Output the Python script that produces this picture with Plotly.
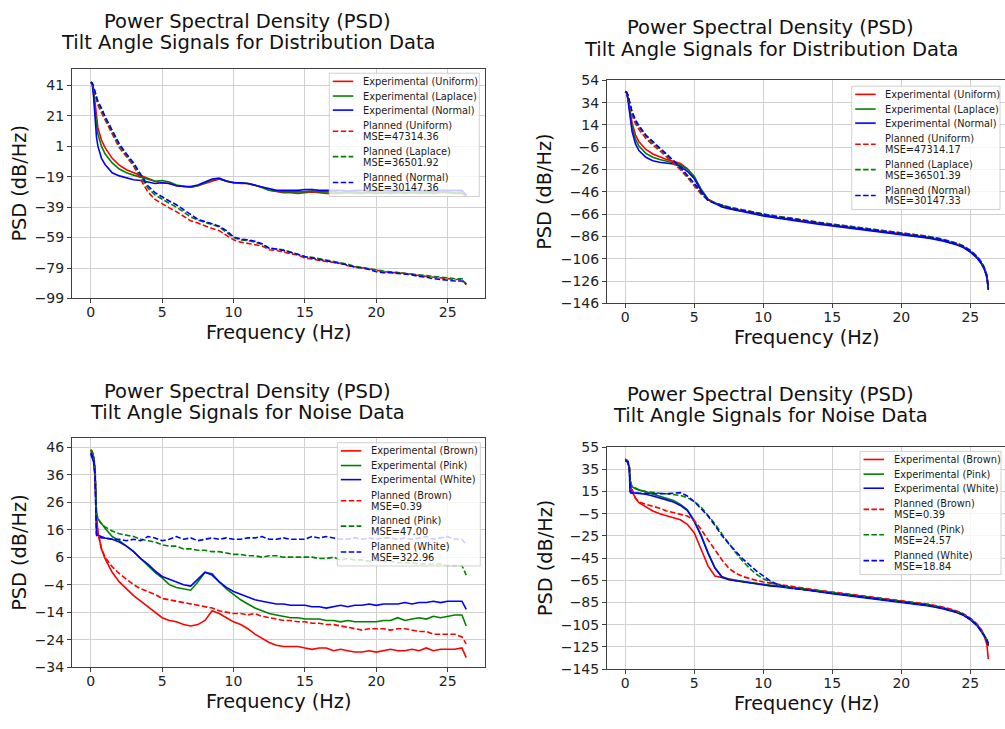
import plotly.graph_objects as go

W, H = 1005, 729

# ---------------- DATA ----------------
# Top-left: Distribution data (noisy PSD)
F_TL = [0, 0.1, 0.2, 0.3, 0.4, 0.5, 0.75, 1.0, 1.5, 2.0,
        2.5, 3, 3.5, 4, 4.5, 5, 5.5, 6, 6.5, 7,
        7.5, 8, 8.5, 9, 9.5, 10, 10.5, 11, 11.5, 12,
        12.5, 13, 13.5, 14, 14.5, 15, 15.5, 16, 16.5, 17,
        17.5, 18, 18.5, 19, 19.5, 20, 20.5, 21, 21.5, 22,
        22.5, 23, 23.5, 24, 24.5, 25, 25.5, 26, 26.3]
TL_EXP_UNIFORM = [43, 42.5, 38, 28, 19, 13, 5, 0, -7, -11.5,
                  -14.5, -16.5, -18.5, -20.5, -22, -23, -23.5, -25, -25.5, -26,
                  -25, -23.5, -21.5, -20.5, -22, -23, -23.5, -23.5, -24.5, -26,
                  -28, -29, -29.5, -29.5, -30, -29.5, -29, -29.5, -30, -30,
                  -30, -29.5, -30, -30, -29.5, -30, -29.5, -30, -29.5, -30,
                  -29.5, -30, -29.5, -30, -29.5, -29.5, -30, -30, -32]
TL_EXP_LAPLACE = [43, 42.5, 36, 25, 15, 9, 1, -4, -10, -14,
                  -16.5, -18, -19.5, -21, -22, -21.5, -22.5, -24.5, -25.5, -26,
                  -25, -23, -21, -20.5, -22, -23, -23, -23.5, -24.5, -26.5,
                  -28, -28.5, -29, -29, -29, -29, -28.5, -29, -29, -29,
                  -29.5, -29, -29, -29.5, -29, -29, -29.5, -29, -29, -29.5,
                  -29, -29, -29.5, -29, -29, -29, -29.5, -29, -31.5]
TL_EXP_NORMAL = [43, 42, 33, 18, 7, 1, -7, -11, -16.5, -18.5,
                 -20, -21, -21.5, -22.5, -23.5, -23, -23.5, -25, -25.5, -25.5,
                 -24.5, -22.5, -20.5, -20, -22, -23, -23, -23.5, -24.5, -26,
                 -27, -28, -28, -28, -28, -27.5, -27.5, -28, -28, -28,
                 -28, -28.5, -28, -28, -28.5, -28, -28, -28, -28.5, -28,
                 -28, -28, -28.5, -28, -28, -28, -28, -28, -31]
TL_PLAN_UNIFORM = [43, 42, 39, 35, 31, 28, 23, 18, 9, 0,
                   -6, -12, -21, -29, -34, -37, -39.5, -42, -45, -48,
                   -49.5, -51.5, -53, -54.5, -57.5, -60.5, -62, -63, -63.5, -64.5,
                   -67, -67.5, -68.5, -69.5, -70.5, -72.5, -73, -74, -74.5, -75,
                   -76, -77.5, -78, -79, -79.5, -80.5, -81, -82, -82, -82.5,
                   -83, -84, -84.5, -85, -85.5, -86, -86.5, -86.5, -90]
TL_PLAN_LAPLACE = [43, 42.5, 39.5, 36, 32.5, 29.5, 25, 19.5, 10.5, 1.5,
                   -5, -11, -19, -26.5, -31, -34, -36.5, -39, -42, -45.5,
                   -47.5, -49, -50.5, -52, -55.5, -59, -60.5, -61, -62, -63.5,
                   -66, -66.5, -67, -68.5, -70, -71.5, -72, -73, -74, -74.5,
                   -75.5, -76.5, -78, -78.5, -79.5, -80.5, -81, -81.5, -82, -82.5,
                   -83, -83.5, -84, -84.5, -85, -85.5, -86, -86, -89.5]
TL_PLAN_NORMAL = [43, 42.5, 40, 36.5, 33, 30.5, 26, 20.5, 11.5, 2.5,
                  -4, -10, -17.5, -25, -29.5, -32.5, -35, -37.5, -40.5, -44,
                  -47, -48.5, -50, -51.5, -54.5, -58.5, -60, -60.5, -61.5, -63,
                  -66, -66.5, -67.5, -68.5, -70, -71.5, -72.5, -73.5, -74.5, -75,
                  -76, -77, -78.5, -79, -80, -81.5, -82, -82, -82.5, -83,
                  -83.5, -84.5, -85, -86, -86.5, -87, -87.5, -87.5, -89.5]

# Top-right: Distribution data (smooth PSD)
F_TR = [0, 0.1, 0.2, 0.3, 0.4, 0.5, 0.75, 1, 1.5, 2,
        2.5, 3, 3.5, 4, 4.5, 5, 5.5, 6, 6.5, 7,
        7.5, 8, 9, 10, 11, 12, 13, 14, 15, 16,
        17, 18, 19, 20, 21, 22, 23, 24, 24.5, 25,
        25.5, 25.8, 26, 26.2, 26.3]
TR_EXP_UNIFORM = [44, 43, 38.5, 31, 23, 16, 5, -1, -8, -12,
                  -14.5, -17, -18.5, -20.5, -25, -33, -44, -52.5, -56, -58.5,
                  -60.5, -62, -64.5, -67, -69, -70.5, -72.5, -74.5, -76, -77.5,
                  -79, -80.5, -82, -83.5, -85, -87, -89.5, -93, -95.5, -99.5,
                  -105, -110, -114.5, -122, -133]
TR_EXP_LAPLACE = [44, 43, 38, 28.5, 19.5, 12, 1, -5, -11.5, -15,
                  -17, -18.5, -19.5, -21.5, -25.5, -32, -43.5, -52.5, -56, -58.5,
                  -60.5, -62, -64.5, -67, -69, -70.5, -72.5, -74.5, -76, -77.5,
                  -79, -80.5, -82, -83.5, -85, -87, -89.5, -93, -95.5, -99.5,
                  -105, -110, -114.5, -122, -133.5]
TR_EXP_NORMAL = [44, 43, 37, 26, 16, 8, -3, -9, -15, -18,
                 -19.5, -20.5, -21, -23, -27.5, -34, -45, -53, -56.5, -59.5,
                 -61, -62.5, -65, -67.5, -69.5, -71, -73, -75, -76.5, -78,
                 -79.5, -81, -82.5, -84, -85.5, -87.5, -90, -93.5, -96, -100,
                 -105.5, -110.5, -115, -123, -134]
TR_PLAN_UNIFORM = [44, 43.5, 40, 34, 28, 23, 15, 10, 2, -4,
                   -9, -14.5, -20, -26, -33, -40, -48, -53.5, -56, -58,
                   -59.5, -61, -63.5, -66, -68, -69.5, -71.5, -73.5, -75, -76.5,
                   -78, -79.5, -81, -82.5, -84, -86, -88.5, -92, -94.5, -98.5,
                   -104, -109, -113.5, -121, -131]
TR_PLAN_LAPLACE = [44, 43.5, 40.5, 35, 29.5, 25, 17, 12, 4, -2.5,
                   -7.5, -13, -19, -25, -32, -39, -47.5, -53.5, -56, -58,
                   -59.5, -61, -63.5, -66, -68, -69.5, -71.5, -73.5, -75, -76.5,
                   -78, -79.5, -81, -82.5, -84, -86, -88.5, -92, -94.5, -98.5,
                   -104, -109, -113.5, -121, -131.5]
TR_PLAN_NORMAL = [44, 43.5, 41, 36, 30.5, 26, 18.5, 13.5, 5, -1,
                  -6.5, -12, -18, -24, -31, -38.5, -47, -53.5, -56.5, -58.5,
                  -60, -61.5, -64, -66.5, -68.5, -70, -72, -74, -75.5, -77,
                  -78.5, -80, -81.5, -83, -84.5, -86.5, -89, -92.5, -95, -99,
                  -104.5, -109.5, -114, -121.5, -132]

# Bottom-left: Noise data (noisy PSD)
F_BL = [0, 0.1, 0.2, 0.3, 0.35, 0.4, 0.5, 0.75, 1.0, 1.5,
        2, 2.5, 3, 3.5, 4, 4.5, 5, 5.5, 6, 6.5,
        7, 7.5, 8, 8.5, 9, 9.5, 10, 10.5, 11, 11.5,
        12, 12.5, 13, 13.5, 14, 14.5, 15, 15.5, 16, 16.5,
        17, 17.5, 18, 18.5, 19, 19.5, 20, 20.5, 21, 21.5,
        22, 22.5, 23, 23.5, 24, 24.5, 25, 25.5, 26, 26.3]
BL_EXP_BROWN = [45, 44, 42, 36, 28, 21, 15, 9, 5.5, 0.5,
                -3, -5.5, -8, -10, -12, -14, -16, -17, -17.5, -18.5,
                -19, -18.5, -17, -13.5, -14.5, -16, -17.5, -18.5, -20, -22,
                -23.5, -25, -26, -26.5, -26.5, -26.5, -27, -27.5, -27, -27,
                -28, -27.5, -28, -28.5, -28.5, -28, -28.5, -28, -27.5, -28,
                -28, -27.5, -28, -27, -28, -27.5, -27.5, -27.5, -27, -30.5]
BL_EXP_PINK = [45, 44, 42.5, 38, 28, 22, 20, 18, 16.5, 13.5,
               12, 10, 8, 5.5, 3, 0.5, -1.5, -4, -5, -5.5,
               -6, -3, 0.5, 0, -3, -5.5, -7.5, -9.5, -11, -12.5,
               -13.5, -14.5, -15, -15.5, -16, -16, -16.5, -16.5, -16.5, -17,
               -17, -17.5, -17, -17.5, -17.5, -17.5, -17.5, -17, -17, -16,
               -17, -16.5, -16, -16.5, -15.5, -16, -15.5, -15, -15, -19]
BL_EXP_WHITE = [43.5, 42, 40.5, 35, 15, 14.5, 14, 13.5, 13, 12.5,
                11.5, 10, 8, 5.5, 3.5, 1, -1, -2, -3, -4,
                -4.5, -2, 0.5, -0.5, -3, -5, -6.5, -7.5, -8.5, -9.5,
                -10, -10.5, -11, -11, -11.5, -11.5, -11.5, -12, -12, -12.5,
                -12, -11.5, -12, -11.5, -11.5, -11, -11.5, -11, -11, -11,
                -10.5, -11, -10.5, -10.5, -10, -10.5, -10, -10, -10, -13]
BL_PLAN_BROWN = [45, 44, 42, 37, 28, 21, 15, 9, 6, 2.5,
                 0, -2, -4, -5.5, -6.5, -7.5, -9, -9.5, -10, -10.5,
                 -11, -11.5, -12, -12.5, -13.5, -14, -14.5, -14.5, -15, -14.5,
                 -15.5, -16, -16.5, -17, -17, -17.5, -17.5, -18, -18, -18.5,
                 -18.5, -19, -19.5, -20, -20.5, -20, -20, -20, -20.5, -20,
                 -20, -20.5, -21, -21, -22, -22, -22, -22, -23, -25.5]
BL_PLAN_PINK = [45, 44.5, 43, 39, 30, 22, 20, 18, 17, 15.5,
                14.5, 14, 13.5, 12.5, 12, 11.5, 10.5, 10, 10, 9,
                9, 8.5, 8.5, 8, 8, 7.5, 7, 7, 6.5, 6.5,
                6, 6.5, 6.5, 6, 6, 6, 6, 6, 5.5, 5.5,
                6, 5, 5.5, 5, 5, 4.5, 5, 4.5, 4.5, 4,
                4, 4, 3.5, 3.5, 3.5, 3.5, 3, 3, 3, -0.5]
BL_PLAN_WHITE = [44, 43, 41.5, 36, 16, 14, 13.5, 13, 13, 12.5,
                 12.5, 12, 12.5, 12, 13.5, 13, 12, 12.5, 13.5, 12.5,
                 13, 12, 12.5, 13, 12.5, 13, 12.5, 12.5, 13, 13,
                 13.5, 12.5, 12.5, 13, 12.5, 12.5, 12.5, 13.5, 13, 13.5,
                 13, 12.5, 12.5, 13, 12.5, 13, 12.5, 13, 13, 12.5,
                 13, 12.5, 13, 13.5, 12.5, 13, 13.5, 12.5, 12.5, 10.5]

# Bottom-right: Noise data (smooth PSD)
F_BR = [0, 0.1, 0.2, 0.3, 0.35, 0.4, 0.5, 0.75, 1, 1.5,
        2, 2.5, 3, 3.5, 4, 4.5, 5, 5.5, 6, 6.5,
        7, 7.5, 8, 8.5, 9, 9.5, 10, 10.5, 11, 11.5,
        12, 13, 14, 15, 16, 17, 18, 19, 20, 21,
        22, 23, 24, 24.5, 25, 25.5, 25.8, 26, 26.2, 26.3]
BR_EXP_BROWN = [44, 43, 41, 35, 26, 20, 15, 9, 5, 1,
                -2.5, -5, -7, -8.5, -10.5, -14.5, -22, -37, -52, -61,
                -62.5, -64, -65, -66, -67, -67.5, -68.5, -69.5, -70, -70.5,
                -71.5, -73, -75, -76.5, -78, -79.5, -81, -82.5, -84, -85.5,
                -87.5, -90, -93.5, -96, -100, -105.5, -110.5, -115, -123, -136]
BR_EXP_PINK = [44, 43.5, 42, 37, 24, 21, 19.5, 17.5, 16.5, 14.5,
               13, 11, 9, 7, 3.5, -1.5, -11, -24, -40, -53.5,
               -61.5, -64, -65, -66, -67, -68, -69, -69.5, -70, -71,
               -71.5, -73, -75, -76.5, -78, -79.5, -81, -82.5, -84, -85.5,
               -87.5, -90, -93.5, -96, -100, -105.5, -110.5, -114.5, -119, -123]
BR_EXP_WHITE = [43, 42.5, 41, 36, 15, 14, 14, 13.8, 13.5, 12.5,
                11, 9.5, 7.5, 5.5, 2.5, -2, -12, -25, -40.5, -54,
                -62, -64.5, -65.5, -66.5, -67.5, -68.5, -69.5, -70, -70.5, -71.5,
                -72, -73.5, -75.5, -77, -78.5, -80, -81.5, -83, -84.5, -86,
                -88, -90.5, -94, -96.5, -100.5, -106, -111, -115, -119, -124]
BR_PLAN_BROWN = [44, 43.5, 42, 37, 28, 22.5, 17, 9, 5.5, 3.5,
                 2, 0, -2.5, -4, -5, -7, -11, -19, -28.5, -38,
                 -46.5, -54, -58.5, -61.5, -63.5, -65, -66.5, -67.5, -68.5, -69.5,
                 -70.5, -72, -74, -75.5, -77, -78.5, -80, -81.5, -83, -84.5,
                 -86.5, -89, -92.5, -95, -99, -104.5, -109.5, -114, -119, -122]
BR_PLAN_PINK = [44, 43.5, 42.5, 38, 26, 22, 20, 18, 16.5, 15,
                14, 13.5, 13, 12.5, 11.5, 9.5, 6, 1, -6, -14,
                -23, -32, -40, -47.5, -54, -59.5, -63.5, -66.5, -69, -70.5,
                -71.5, -72.5, -74.5, -76, -77.5, -79, -80.5, -82, -83.5, -85,
                -87, -89.5, -93, -95.5, -99.5, -105, -110, -114, -118.5, -121]
BR_PLAN_WHITE = [43, 42.5, 41.5, 37, 15, 14, 13.8, 13.5, 13.5, 13.3,
                 13, 13, 13, 13.5, 14, 11, 6, -0.5, -7, -15.5,
                 -24.5, -32, -38.5, -45.5, -51, -56.5, -61, -65.5, -68.5, -70.5,
                 -72, -73.5, -75, -76.5, -78, -79.5, -81, -82.5, -84, -85.5,
                 -87.5, -90, -93.5, -96, -100, -105.5, -110.5, -114.5, -119, -122]

DIST_NAMES = ["Uniform", "Laplace", "Normal"]
NOISE_NAMES = ["Brown", "Pink", "White"]
MSE_TL = ["47314.36", "36501.92", "30147.36"]
MSE_TR = ["47314.17", "36501.39", "30147.33"]
MSE_BL = ["0.39", "47.00", "322.96"]
MSE_BR = ["0.39", "24.57", "18.84"]

TITLE_L1 = "Power Spectral Density (PSD)"
TITLE_DIST = "Tilt Angle Signals for Distribution Data"
TITLE_NOISE = "Tilt Angle Signals for Noise Data"
X_LABEL = "Frequency (Hz)"
Y_LABEL = "PSD (dB/Hz)"

Y_TICKS_TL = [-99, -79, -59, -39, -19, 1, 21, 41]
Y_TICKS_TR = [-146, -126, -106, -86, -66, -46, -26, -6, 14, 34, 54]
Y_TICKS_BL = [-34, -24, -14, -4, 6, 16, 26, 36, 46]
Y_TICKS_BR = [-145, -125, -105, -85, -65, -45, -25, -5, 15, 35, 55]
X_TICKS = [0, 5, 10, 15, 20, 25]

# ---------------- STYLE / LAYOUT ----------------
FONT = "DejaVu Sans"
COLORS = ["#ff0000", "#008000", "#0000ff"]
DASH = "5.5px,2.4px"


def pxx(p):
    return p / W


def pxy(p):
    return 1 - p / H


def fmt(v):
    return str(v).replace("-", "\u2212")


panels = [
    dict(ax="", freq=F_TL, exp=[TL_EXP_UNIFORM, TL_EXP_LAPLACE, TL_EXP_NORMAL],
         plan=[TL_PLAN_UNIFORM, TL_PLAN_LAPLACE, TL_PLAN_NORMAL], names=DIST_NAMES, mse=MSE_TL,
         box=(72, 62, 485, 297), xr=[-1.315, 27.615], yr=[-99, 51.9], yt=Y_TICKS_TL,
         title=(TITLE_L1, TITLE_DIST), tcx=247.5, ty=(13.5, 35.5),
         xlab=(278.5, 331.5), ylab=(20, 179.5), mirror_y=True,
         leg=(329.3, 66.7, 150)),
    dict(ax="2", freq=F_TR, exp=[TR_EXP_UNIFORM, TR_EXP_LAPLACE, TR_EXP_NORMAL],
         plan=[TR_PLAN_UNIFORM, TR_PLAN_LAPLACE, TR_PLAN_NORMAL], names=DIST_NAMES, mse=MSE_TR,
         box=(607, 74, 1005, 302), xr=[-1.315, 27.51], yr=[-146, 54], yt=Y_TICKS_TR,
         title=(TITLE_L1, TITLE_DIST), tcx=770.7, ty=(20, 42.7),
         xlab=(806, 336.5), ylab=(545, 188), mirror_y=False,
         leg=(851.7, 80, 148.3)),
    dict(ax="3", freq=F_BL, exp=[BL_EXP_BROWN, BL_EXP_PINK, BL_EXP_WHITE],
         plan=[BL_PLAN_BROWN, BL_PLAN_PINK, BL_PLAN_WHITE], names=NOISE_NAMES, mse=MSE_BL,
         box=(72, 440, 485, 674), xr=[-1.315, 27.615], yr=[-34, 49.2], yt=Y_TICKS_BL,
         title=(TITLE_L1, TITLE_NOISE), tcx=247.5, ty=(391.7, 413.3),
         xlab=(278.5, 709.5), ylab=(20, 557), mirror_y=True,
         leg=(337.3, 444.5, 143)),
    dict(ax="4", freq=F_BR, exp=[BR_EXP_BROWN, BR_EXP_PINK, BR_EXP_WHITE],
         plan=[BR_PLAN_BROWN, BR_PLAN_PINK, BR_PLAN_WHITE], names=NOISE_NAMES, mse=MSE_BR,
         box=(607, 449, 1005, 676), xr=[-1.315, 27.51], yr=[-145, 55], yt=Y_TICKS_BR,
         title=(TITLE_L1, TITLE_NOISE), tcx=770.7, ty=(395, 416.7),
         xlab=(806, 711.5), ylab=(545, 562.5), mirror_y=False,
         leg=(860, 453.3, 141)),
]

fig = go.Figure()
shapes = []
annotations = []
layout_axes = {}

LEG_ROWS = [8.3, 23.3, 37.7, 59.3, 85.3, 111.7]
LEG_H = 126

for p in panels:
    xa = "x" + p["ax"]
    ya = "y" + p["ax"]
    for i in range(3):
        fig.add_trace(go.Scatter(
            x=p["freq"], y=p["exp"][i], mode="lines", xaxis=xa, yaxis=ya,
            name=f"Experimental ({p['names'][i]})", showlegend=False,
            line=dict(color=COLORS[i], width=1.6)))
    for i in range(3):
        fig.add_trace(go.Scatter(
            x=p["freq"], y=p["plan"][i], mode="lines", xaxis=xa, yaxis=ya,
            name=f"Planned ({p['names'][i]}) MSE={p['mse'][i]}", showlegend=False,
            line=dict(color=COLORS[i], width=1.6, dash=DASH)))

    l, t, r, b = p["box"]
    axis_common = dict(showgrid=True, gridcolor="#d0d0d0", gridwidth=1.3,
                       showline=True, linecolor="#404040", linewidth=1,
                       ticks="outside", ticklen=4, tickwidth=1, tickcolor="#404040",
                       tickfont=dict(family=FONT, size=14, color="#222222"),
                       zeroline=False, fixedrange=True)
    layout_axes["xaxis" + p["ax"]] = dict(
        axis_common, domain=[pxx(l), pxx(r)], anchor=ya, range=p["xr"],
        tickmode="array", tickvals=X_TICKS, ticktext=[str(v) for v in X_TICKS],
        mirror=True, ticklabelstandoff=-3)
    layout_axes["yaxis" + p["ax"]] = dict(
        axis_common, domain=[pxy(b), pxy(t)], anchor=xa, range=p["yr"],
        tickmode="array", tickvals=p["yt"], ticktext=[fmt(v) for v in p["yt"]],
        mirror=p["mirror_y"])

    # titles
    for line, yy in zip(p["title"], p["ty"]):
        annotations.append(dict(text=line, x=pxx(p["tcx"]), y=pxy(yy), xref="paper", yref="paper",
                                xanchor="center", yanchor="middle", showarrow=False,
                                font=dict(family=FONT, size=19.5, color="#111111")))
    annotations.append(dict(text=X_LABEL, x=pxx(p["xlab"][0]), y=pxy(p["xlab"][1]), xref="paper",
                            yref="paper", xanchor="center", yanchor="middle", showarrow=False,
                            font=dict(family=FONT, size=19.3, color="#111111")))
    annotations.append(dict(text=Y_LABEL, x=pxx(p["ylab"][0]), y=pxy(p["ylab"][1]), xref="paper",
                            yref="paper", xanchor="center", yanchor="middle", showarrow=False,
                            textangle=-90, font=dict(family=FONT, size=19.3, color="#111111")))

    # legend (matplotlib-style box inside the axes)
    gl, gt, gw = p["leg"]
    shapes.append(dict(type="rect", xref="paper", yref="paper", layer="above",
                       x0=pxx(gl), x1=pxx(gl + gw), y0=pxy(gt + LEG_H), y1=pxy(gt),
                       fillcolor="rgba(255,255,255,0.8)",
                       line=dict(color="rgba(204,204,204,0.9)", width=1)))
    labels = [[f"Experimental ({n})"] for n in p["names"]] + \
             [[f"Planned ({n})", f"MSE={m}"] for n, m in zip(p["names"], p["mse"])]
    for k, (row, lab) in enumerate(zip(LEG_ROWS, labels)):
        cy = gt + row
        col = COLORS[k % 3]
        shapes.append(dict(type="line", xref="paper", yref="paper", layer="above",
                           x0=pxx(gl + 3.5), x1=pxx(gl + 24), y0=pxy(cy), y1=pxy(cy),
                           line=dict(color=col, width=1.6, dash="solid" if k < 3 else DASH)))
        if len(lab) == 1:
            offs = [0]
        else:
            offs = [-5.6, 5.6]
        for txt, off in zip(lab, offs):
            annotations.append(dict(text=txt, x=pxx(gl + 31.5), y=pxy(cy + off), xref="paper",
                                    yref="paper", xanchor="left", yanchor="middle",
                                    showarrow=False,
                                    font=dict(family=FONT, size=9.8, color="#1a1a1a")))

fig.update_layout(
    width=W, height=H, autosize=False,
    margin=dict(l=0, r=0, t=0, b=0, pad=0),
    paper_bgcolor="white", plot_bgcolor="white",
    showlegend=False,
    font=dict(family=FONT, color="#222222"),
    shapes=shapes, annotations=annotations,
    **layout_axes,
)

fig.write_html("out.html", config={"displayModeBar": False},
               post_script="document.body.style.margin='0';")
